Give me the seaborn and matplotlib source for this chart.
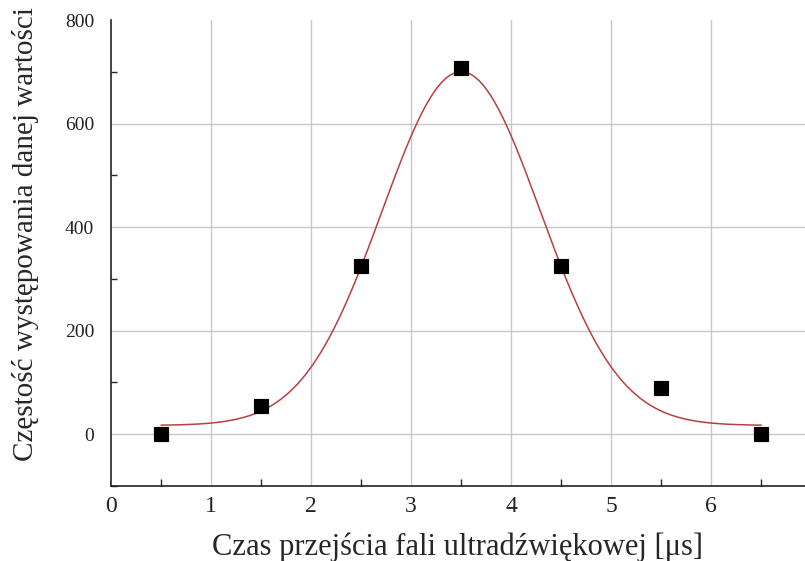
import numpy as np
import pandas as pd
import matplotlib
matplotlib.use("Agg")
import matplotlib.pyplot as plt
import seaborn as sns
from matplotlib.ticker import MultipleLocator

# punkty pomiarowe
czas = [0.5, 1.5, 2.5, 3.5, 4.5, 5.5, 6.5]
czestosc = [0, 55, 325, 707, 325, 90, 0]

# parametry dopasowania Gaussa
y0 = 17
amp = 683
xc = 3.5
w = 0.79

x_fit = np.linspace(0.5, 6.5, 300)
y_fit = y0 + amp * np.exp(-(x_fit - xc) ** 2 / (2 * w ** 2))

punkty = pd.DataFrame({"czas": czas, "czestosc": czestosc})
krzywa = pd.DataFrame({"czas": x_fit, "czestosc": y_fit})

sns.set_style("white")
plt.rcParams['font.family'] = ['Liberation Serif', 'DejaVu Serif']

fig = plt.figure(figsize=(8.05, 5.61), dpi=100)
ax = fig.add_axes([0.1379, 0.1337, 0.87, 0.8306])

sns.lineplot(data=krzywa, x="czas", y="czestosc", color="#b84040", linewidth=1.1, ax=ax, zorder=3)
sns.scatterplot(data=punkty, x="czas", y="czestosc", marker="s", s=110, color="black",
                edgecolor="black", ax=ax, zorder=4)

ax.set_xlim(0, 7)
ax.set_ylim(-100, 800)
ax.xaxis.set_major_locator(MultipleLocator(1))
ax.xaxis.set_minor_locator(MultipleLocator(0.5))
ax.yaxis.set_major_locator(MultipleLocator(200))
ax.yaxis.set_minor_locator(MultipleLocator(100))

for x in range(1, 7):
    ax.axvline(x, color="#c8c8c8", linewidth=1, zorder=1)
for y in [0, 200, 400, 600]:
    ax.axhline(y, color="#c8c8c8", linewidth=1, zorder=1)

for s in ["top", "right"]:
    ax.spines[s].set_visible(False)
for s in ["left", "bottom"]:
    ax.spines[s].set_color("#222222")
    ax.spines[s].set_linewidth(1.2)

ax.tick_params(axis="y", which="major", direction="out", length=7, width=1, labelsize=14,
               colors="#222222", pad=5)
ax.tick_params(axis="y", which="minor", direction="in", length=4, width=1, left=True)
ax.tick_params(axis="x", which="major", direction="in", length=10, width=1, labelsize=17,
               colors="#222222", pad=7)
ax.tick_params(axis="x", which="minor", direction="in", length=5, width=1, bottom=True)

ax.set_xlabel("Czas przejścia fali ultradźwiękowej [μs]", fontsize=22)
ax.xaxis.set_label_coords(0.495, -0.1)
ax.set_ylabel("Częstość występowania danej wartości", fontsize=21)
ax.yaxis.set_label_coords(-0.103, 0.54)

fig.savefig("out.png", dpi=100)
